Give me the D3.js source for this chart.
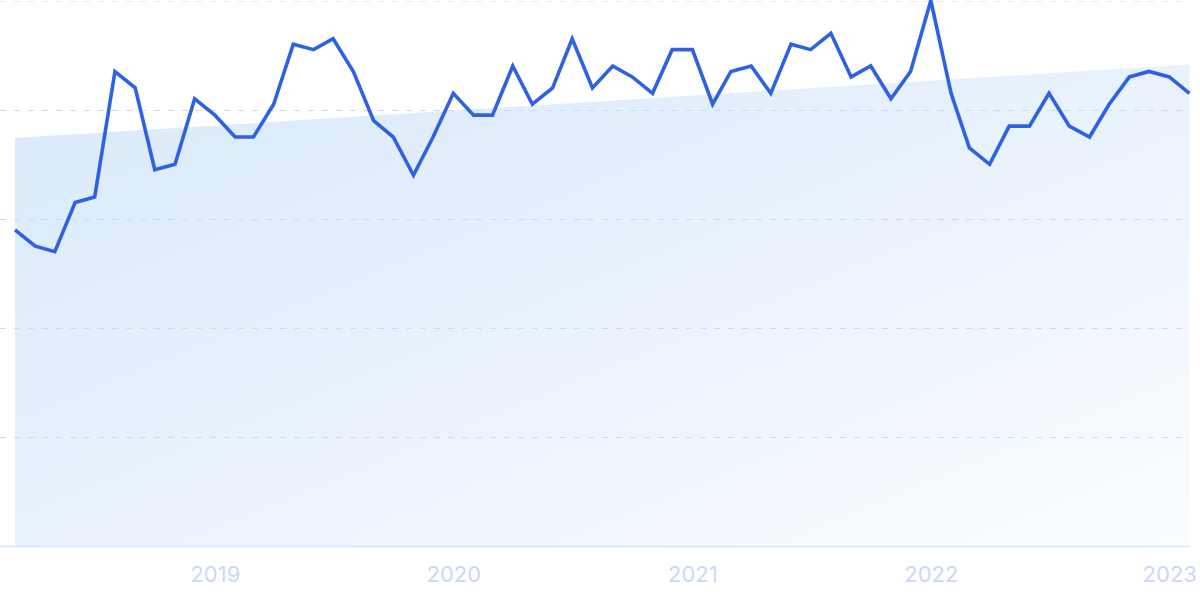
<!DOCTYPE html>
<html>
<head>
<meta charset="utf-8">
<script src="https://cdn.jsdelivr.net/npm/d3@7"></script>
<style>
  html, body { margin: 0; padding: 0; background: #ffffff; }
  svg { display: block; }
</style>
</head>
<body>
<svg id="chart" width="1200" height="599"></svg>
<script>
// ---- data ----
const startMonth = "2018-03";
const values = [58, 55, 54, 63, 64, 87, 84, 69, 70, 82,
                79, 75, 75, 81, 92, 91, 93, 87, 78, 75, 68, 75,
                83, 79, 79, 88, 81, 84, 93, 84, 88, 86, 83, 91,
                91, 81, 87, 88, 83, 92, 91, 94, 86, 88, 82, 87,
                100, 83, 73, 70, 77, 77, 83, 77, 75, 81, 86, 87,
                86, 83];
const trendValues = [74.8, 88.3];
const yTicks = [0, 20, 40, 60, 80, 100];
const yearLabels = ["2019", "2020", "2021", "2022", "2023"];

// ---- build ----
const parseMonth = d3.timeParse("%Y-%m");
const start = parseMonth(startMonth);
const dates = values.map((v, i) => d3.timeMonth.offset(start, i));
const series = values.map((v, i) => ({ date: dates[i], value: v }));

const svg = d3.select("#chart");
const x = d3.scaleTime()
  .domain([dates[0], dates[dates.length - 1]])
  .range([15, 1189.5]);
const y = d3.scaleLinear().domain([0, 100]).range([546.5, 0.5]);

const defs = svg.append("defs");
const grad = defs.append("linearGradient")
  .attr("id", "trendGrad")
  .attr("x1", "0").attr("y1", "0").attr("x2", "1").attr("y2", "1");
grad.append("stop").attr("offset", "0").attr("stop-color", "#d9e8fa");
grad.append("stop").attr("offset", "0.55").attr("stop-color", "#eaf3fd");
grad.append("stop").attr("offset", "1").attr("stop-color", "#fbfdff");

// trend area
const trend = [
  { date: dates[0], value: trendValues[0] },
  { date: dates[dates.length - 1], value: trendValues[1] }
];
svg.append("path")
  .datum(trend)
  .attr("fill", "url(#trendGrad)")
  .attr("d", d3.area().x(d => x(d.date)).y0(y(0)).y1(d => y(d.value)));

// grid lines
svg.append("g")
  .selectAll("line")
  .data(yTicks.filter(t => t > 0))
  .join("line")
  .attr("x1", 0).attr("x2", 1190)
  .attr("y1", d => Math.round(y(d)) + 0.5).attr("y2", d => Math.round(y(d)) + 0.5)
  .attr("stroke", d => d === 100 ? "#e3ecfa" : "#bfe0fb")
  .attr("stroke-width", 1)
  .attr("stroke-dasharray", "6,8");

// baseline
svg.append("line")
  .attr("x1", 0).attr("x2", 1190)
  .attr("y1", y(0)).attr("y2", y(0))
  .attr("stroke", "#d3e5f9")
  .attr("stroke-width", 1.5);

// line
svg.append("path")
  .datum(series)
  .attr("fill", "none")
  .attr("stroke", "#2e62e2")
  .attr("stroke-width", 3.6)
  .attr("stroke-linejoin", "miter")
  .attr("d", d3.line().x(d => x(d.date)).y(d => y(d.value)));

// x axis labels
const yearDates = yearLabels.map(s => d3.timeParse("%Y")(s));
const xAxis = d3.axisBottom(x)
  .tickValues(yearDates)
  .tickFormat((d, i) => yearLabels[i])
  .tickSize(0)
  .tickPadding(0);
const gx = svg.append("g")
  .attr("transform", `translate(0, 582)`)
  .call(xAxis);
gx.select(".domain").remove();
gx.selectAll("text")
  .attr("dy", 0)
  .attr("fill", "#ccd7f5")
  .style("font-family", "Inter, 'Noto Sans', sans-serif")
  .style("font-size", "22px");
</script>
</body>
</html>
